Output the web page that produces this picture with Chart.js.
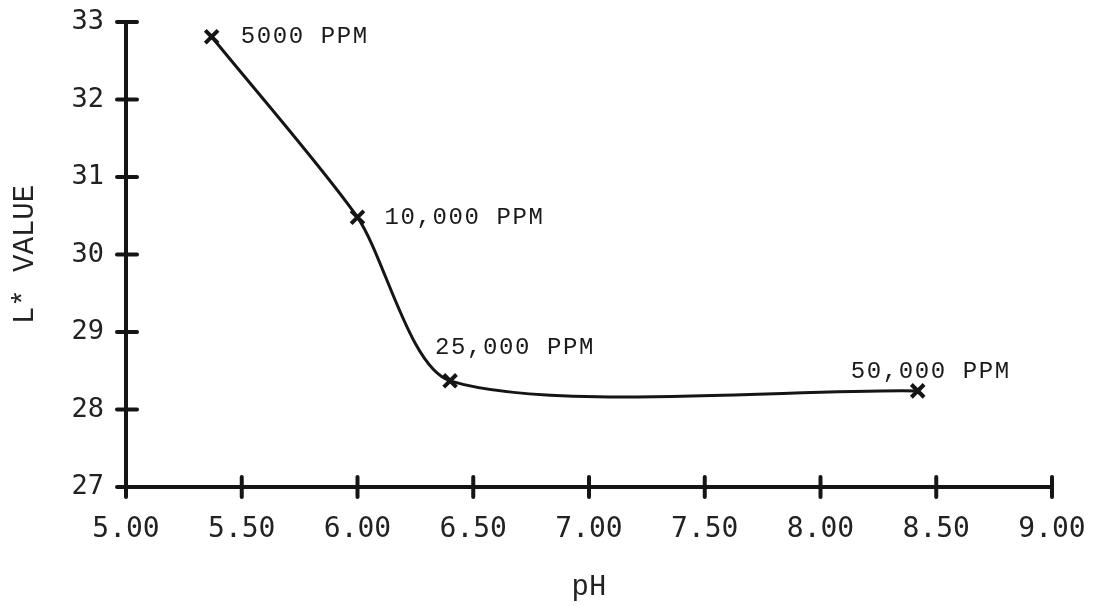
<!DOCTYPE html>
<html lang="en">
  <head>
    <meta charset="UTF-8" />
    <title>L* value vs pH</title>
    <script src="https://cdn.jsdelivr.net/npm/chart.js"></script>
    <style>
      html, body { margin: 0; padding: 0; background: #fff; }
      #wrap { width: 1095px; height: 606px; }
    </style>
  </head>
  <body>
    <div id="wrap"><canvas id="myChart"></canvas></div>

    <script>
      // values
      const phValues = [5.37, 6.00, 6.40, 8.42];
      const lValues = [32.81, 30.48, 28.37, 28.24];
      const concLabels = ['5000 PPM', '10,000 PPM', '25,000 PPM', '50,000 PPM'];

      // where each concentration label sits relative to its point (px)
      const labelOffsets = [[29, 0], [27, 0], [-15, -33], [-67, -19]];

      const ink = '#151515';
      const courier = '"Liberation Mono", "Courier New", Cousine, "Nimbus Mono PS", Courier, monospace';

      // tick marks that cross the axis lines
      const crossTicks = {
        id: 'crossTicks',
        afterDraw(chart) {
          const ctx = chart.ctx;
          const x = chart.scales.x;
          const y = chart.scales.y;
          const area = chart.chartArea;
          ctx.save();
          ctx.strokeStyle = ink;
          ctx.lineWidth = 4;
          ctx.lineCap = 'round';
          x.ticks.forEach(t => {
            const px = x.getPixelForValue(t.value);
            ctx.beginPath();
            ctx.moveTo(px, area.bottom - 10);
            ctx.lineTo(px, area.bottom + 10);
            ctx.stroke();
          });
          y.ticks.forEach(t => {
            const py = y.getPixelForValue(t.value);
            ctx.beginPath();
            ctx.moveTo(area.left - 9, py);
            ctx.lineTo(area.left + 11, py);
            ctx.stroke();
          });
          ctx.restore();
        }
      };

      // concentration labels next to the points
      const pointLabels = {
        id: 'pointLabels',
        afterDatasetsDraw(chart) {
          const ctx = chart.ctx;
          const meta = chart.getDatasetMeta(0);
          ctx.save();
          ctx.font = '24px ' + courier;
          ctx.letterSpacing = '1.6px';
          ctx.fillStyle = '#1a1a1a';
          ctx.textBaseline = 'middle';
          ctx.textAlign = 'left';
          meta.data.forEach((pt, i) => {
            const off = labelOffsets[i];
            ctx.fillText(concLabels[i], pt.x + off[0], pt.y + off[1]);
          });
          ctx.restore();
        }
      };

      const ctx = document.getElementById('myChart').getContext('2d');
      const points = phValues.map((v, i) => ({ x: v, y: lValues[i] }));

      new Chart(ctx, {
        type: 'line',
        data: {
          datasets: [{
            data: points,
            borderColor: ink,
            borderWidth: 3,
            tension: 0.25,
            fill: false,
            pointStyle: 'crossRot',
            pointRadius: 9,
            pointBorderWidth: 4,
            pointBorderColor: ink,
            pointBackgroundColor: ink
          }]
        },
        options: {
          responsive: true,
          maintainAspectRatio: false,
          animation: false,
          layout: { padding: { top: 22, right: 43, left: 0, bottom: 0 } },
          plugins: {
            legend: { display: false },
            tooltip: { enabled: false }
          },
          scales: {
            x: {
              type: 'linear',
              min: 5,
              max: 9,
              ticks: {
                stepSize: 0.5,
                padding: 26,
                color: '#222',
                font: { family: '"DejaVu Sans Mono", monospace', size: 28 },
                callback: v => v.toFixed(2)
              },
              grid: { display: false, drawTicks: false },
              border: { display: true, width: 4, color: ink },
              title: {
                display: true,
                text: 'pH',
                color: '#222',
                font: { family: courier, size: 29 },
                padding: { top: 0, bottom: 1 }
              },
              afterFit: s => {
                s.height = 119;
                s.paddingLeft = 0;
                s.paddingRight = 0;
              }
            },
            y: {
              min: 27,
              max: 33,
              ticks: {
                stepSize: 1,
                padding: 22,
                color: '#222',
                font: { family: '"DejaVu Sans Mono", monospace', size: 27 }
              },
              grid: { display: false, drawTicks: false },
              border: { display: true, width: 4, color: ink },
              title: {
                display: true,
                text: 'L* VALUE',
                color: '#222',
                font: { family: courier, size: 29 },
                padding: { top: 8, bottom: 0 }
              },
              afterFit: s => {
                s.width = 126;
                s.paddingTop = 0;
                s.paddingBottom = 0;
              }
            }
          }
        },
        plugins: [crossTicks, pointLabels]
      });
    </script>
  </body>
</html>
